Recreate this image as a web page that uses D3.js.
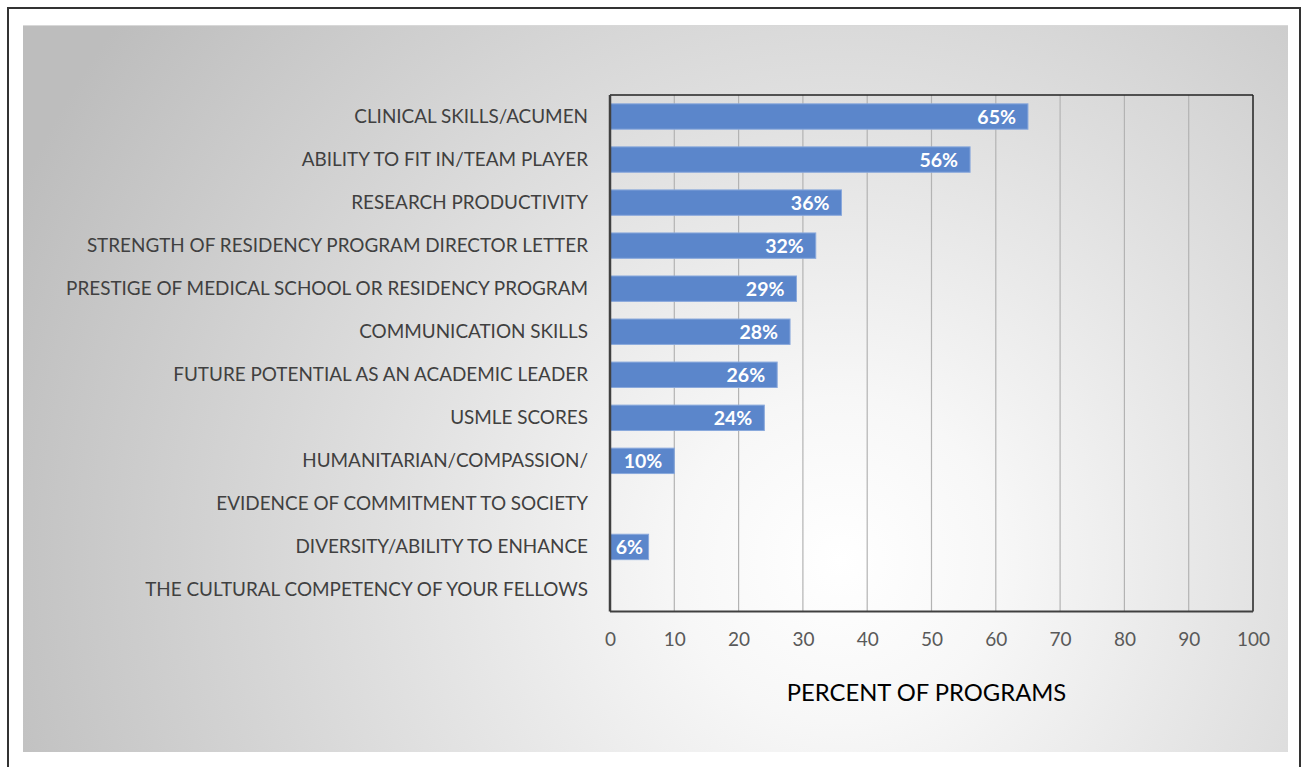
<!DOCTYPE html>
<html>
<head>
<meta charset="utf-8">
<script src="https://cdn.jsdelivr.net/npm/d3@7"></script>
<style>
  body { margin: 0; background: #fff; }
  svg { display: block; }
</style>
</head>
<body>
<div id="my_dataviz"></div>
<script>
// data
var categories = [
  "CLINICAL SKILLS/ACUMEN",
  "ABILITY TO FIT IN/TEAM PLAYER",
  "RESEARCH PRODUCTIVITY",
  "STRENGTH OF RESIDENCY PROGRAM DIRECTOR LETTER",
  "PRESTIGE OF MEDICAL SCHOOL OR RESIDENCY PROGRAM",
  "COMMUNICATION SKILLS",
  "FUTURE POTENTIAL AS AN ACADEMIC LEADER",
  "USMLE SCORES",
  "HUMANITARIAN/COMPASSION/",
  "EVIDENCE OF COMMITMENT TO SOCIETY",
  "DIVERSITY/ABILITY TO ENHANCE",
  "THE CULTURAL COMPETENCY OF YOUR FELLOWS"
];
var values = [65, 56, 36, 32, 29, 28, 26, 24, 10, null, 6, null];
var xTicks = [0, 10, 20, 30, 40, 50, 60, 70, 80, 90, 100];
var xTitle = "PERCENT OF PROGRAMS";

var W = 1303, H = 767;
var margin = {top: 95, right: 50, bottom: 155.5, left: 610},
    width = 1253 - margin.left,
    height = 611.5 - margin.top;

var svg = d3.select("#my_dataviz")
  .append("svg")
    .attr("width", W)
    .attr("height", H);

// background gradient
var defs = svg.append("defs");
var grad = defs.append("radialGradient")
    .attr("id", "bg")
    .attr("gradientUnits", "userSpaceOnUse")
    .attr("cx", 840).attr("cy", 560).attr("r", 900);
grad.append("stop").attr("offset", "0%").attr("stop-color", "#ffffff");
grad.append("stop").attr("offset", "18%").attr("stop-color", "#f7f7f7");
grad.append("stop").attr("offset", "100%").attr("stop-color", "#bdbdbd");

// outer frame
svg.append("rect")
  .attr("x", 8).attr("y", 8)
  .attr("width", 1292).attr("height", 770)
  .attr("fill", "#fff")
  .attr("stroke", "#333")
  .attr("stroke-width", 2);

// gray panel
svg.append("rect")
  .attr("x", 23).attr("y", 25)
  .attr("width", 1265).attr("height", 727)
  .attr("fill", "url(#bg)");
svg.append("line")
  .attr("x1", 23).attr("x2", 1288).attr("y1", 25.5).attr("y2", 25.5)
  .attr("stroke", "#d8d8d8");

var g = svg.append("g")
  .attr("transform", "translate(" + margin.left + "," + margin.top + ")");

// X scale
var x = d3.scaleLinear()
  .domain([0, 100])
  .range([0, width]);

// Y scale
var y = d3.scaleBand()
  .domain(categories)
  .range([0, height])
  .paddingInner(0.41)
  .paddingOuter(0.205);

// gridlines
g.selectAll(".grid")
  .data(xTicks.slice(1, -1))
  .enter()
  .append("line")
    .attr("x1", function(d) { return x(d); })
    .attr("x2", function(d) { return x(d); })
    .attr("y1", 0)
    .attr("y2", height)
    .attr("stroke", "#b3b3b3")
    .attr("stroke-width", 1.2);

// x axis
var xAxis = g.append("g")
  .attr("transform", "translate(0," + height + ")")
  .call(d3.axisBottom(x).tickValues(xTicks).tickSize(0).tickPadding(21));
xAxis.select(".domain").remove();
xAxis.selectAll("text")
  .style("font-family", "Lato, 'Open Sans', sans-serif")
  .style("font-size", "19px")
  .attr("fill", "#595959");

// y axis labels
var yAxis = g.append("g")
  .call(d3.axisLeft(y).tickSize(0).tickPadding(22));
yAxis.select(".domain").remove();
yAxis.selectAll("text")
  .style("font-family", "Lato, 'Open Sans', sans-serif")
  .style("font-size", "18.9px")
  .attr("fill", "#404040");

// bars
var barData = categories.map(function(c, i) { return {cat: c, value: values[i]}; })
  .filter(function(d) { return d.value !== null; });

g.selectAll("mybar")
  .data(barData)
  .enter()
  .append("rect")
    .attr("x", x(0))
    .attr("y", function(d) { return y(d.cat); })
    .attr("width", function(d) { return x(d.value) - x(0); })
    .attr("height", y.bandwidth())
    .attr("fill", "#5b86cb")
    .attr("stroke", "#8aa9dc")
    .attr("stroke-width", 1);

// bar labels
g.selectAll("mylabel")
  .data(barData)
  .enter()
  .append("text")
    .attr("y", function(d) { return y(d.cat) + y.bandwidth() / 2; })
    .attr("dy", "0.36em")
    .attr("text-anchor", "end")
    .style("font-family", "Lato, 'Open Sans', sans-serif")
    .style("font-size", "19.5px")
    .style("font-weight", "bold")
    .attr("fill", "#ffffff")
    .text(function(d) { return d.value + "%"; })
    .attr("x", function(d) {
      var w = this.getComputedTextLength();
      return Math.max(x(d.value) - 12, x(0) + (x(d.value) - x(0) + w) / 2);
    });

// frame of plot area
g.append("line")
  .attr("x1", 0).attr("x2", width).attr("y1", 0).attr("y2", 0)
  .attr("stroke", "#222").attr("stroke-width", 1.5);
g.append("line")
  .attr("x1", width).attr("x2", width).attr("y1", 0).attr("y2", height)
  .attr("stroke", "#222").attr("stroke-width", 1.5);
g.append("line")
  .attr("x1", 0).attr("x2", width).attr("y1", height).attr("y2", height)
  .attr("stroke", "#404040").attr("stroke-width", 2.2);
g.append("line")
  .attr("x1", 0).attr("x2", 0).attr("y1", 0).attr("y2", height)
  .attr("stroke", "#404040").attr("stroke-width", 2.5);

// axis title
g.append("text")
  .attr("x", width / 2 - 5)
  .attr("y", height + 89)
  .attr("text-anchor", "middle")
  .style("font-family", "Lato, 'Open Sans', sans-serif")
  .style("font-size", "23.8px")
  .attr("fill", "#000")
  .text(xTitle);
</script>
</body>
</html>
